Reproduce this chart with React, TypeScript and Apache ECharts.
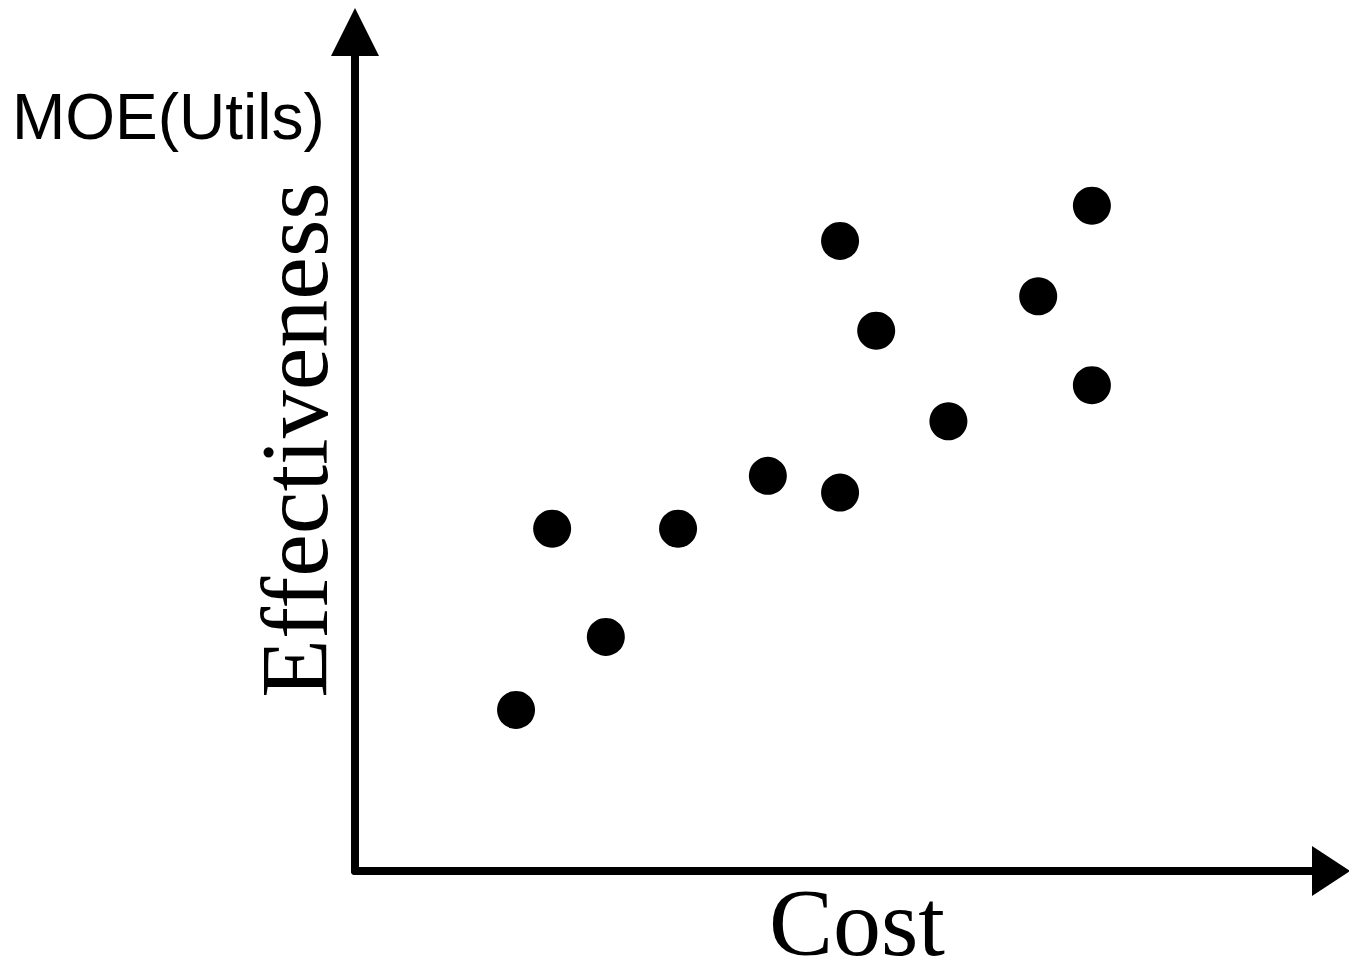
import React, { useEffect, useRef } from "react";
import * as echarts from "echarts";

const costValues = [16.5, 20.2, 25.7, 33.1, 42.3, 49.7, 49.7, 53.4, 60.8, 70.0, 75.5, 75.5];
const effectivenessValues = [19.2, 40.8, 27.9, 40.8, 47.1, 75.1, 45.1, 64.4, 53.6, 68.5, 79.3, 57.9];
const xTitle = "Cost";
const yTitle = "Effectiveness";
const unitLabel = "MOE(Utils)";

export default function App() {
  const ref = useRef<HTMLDivElement>(null);
  useEffect(() => {
    if (!ref.current) return;
    const chart = echarts.init(ref.current, undefined, { renderer: "svg" });
    const data = costValues.map((c, i) => [c, effectivenessValues[i]]);
    chart.setOption({
      animation: false,
      backgroundColor: "#ffffff",
      grid: { left: 355, right: 18, top: 32, bottom: 91, containLabel: false },
      xAxis: {
        type: "value",
        min: 0,
        max: 100,
        axisLine: {
          show: true,
          onZero: false,
          symbol: ["none", "triangle"],
          symbolSize: [50, 38],
          lineStyle: { color: "#000", width: 8, cap: "round" },
        },
        axisTick: { show: false },
        axisLabel: { show: false },
        splitLine: { show: false },
      },
      yAxis: {
        type: "value",
        min: 0,
        max: 100,
        axisLine: {
          show: true,
          onZero: false,
          symbol: ["none", "triangle"],
          symbolSize: [48, 48],
          lineStyle: { color: "#000", width: 8, cap: "round" },
        },
        axisTick: { show: false },
        axisLabel: { show: false },
        splitLine: { show: false },
      },
      series: [
        {
          type: "scatter",
          data,
          symbol: "circle",
          symbolSize: 38,
          itemStyle: { color: "#000", opacity: 1 },
        },
      ],
      graphic: [
        {
          type: "text",
          x: 12,
          y: 117,
          style: {
            text: unitLabel,
            font: "64px 'Liberation Sans', Arial, sans-serif",
            fill: "#000",
            align: "left",
            verticalAlign: "middle",
          },
        },
        {
          type: "text",
          x: 294,
          y: 440,
          rotation: Math.PI / 2,
          style: {
            text: yTitle,
            font: "96px 'Liberation Serif', 'Times New Roman', serif",
            fill: "#000",
            align: "center",
            verticalAlign: "middle",
          },
        },
        {
          type: "text",
          x: 857,
          y: 922,
          style: {
            text: xTitle,
            font: "96px 'Liberation Serif', 'Times New Roman', serif",
            lineHeight: 72,
            fill: "#000",
            align: "center",
            verticalAlign: "middle",
          },
        },
      ],
    });
    return () => chart.dispose();
  }, []);
  return (
    <div
      ref={ref}
      style={{ position: "fixed", left: 0, top: 0, width: 1349, height: 962 }}
    />
  );
}
